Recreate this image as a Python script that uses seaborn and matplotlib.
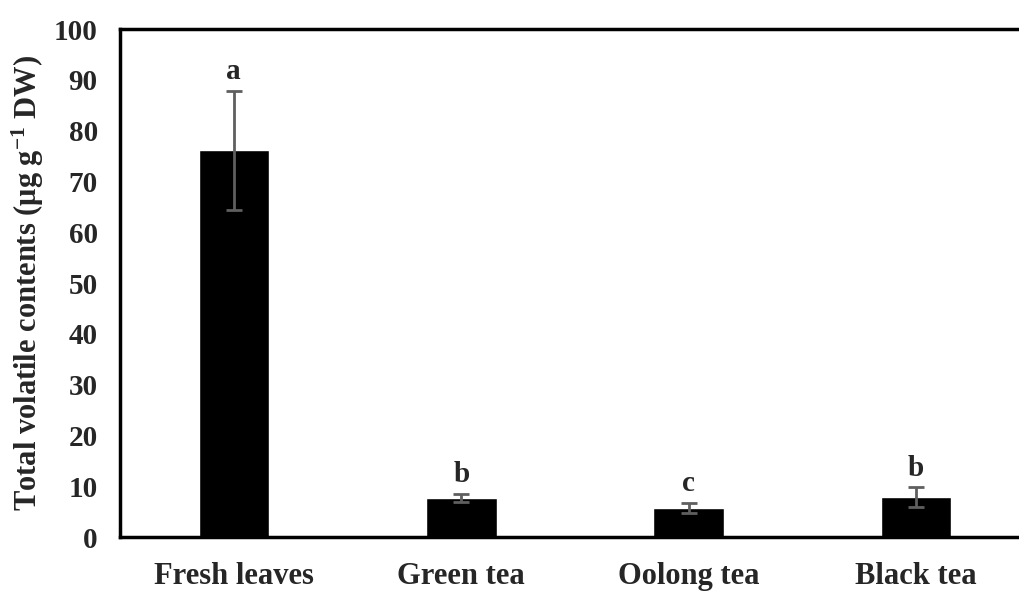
import matplotlib
matplotlib.use("Agg")
import matplotlib.pyplot as plt
import seaborn as sns
import pandas as pd

# valores
categorias = ["Fresh leaves", "Green tea", "Oolong tea", "Black tea"]
medias = [76.1, 7.7, 5.7, 7.9]
erros = [11.7, 0.8, 1.0, 1.9]
letras = ["a", "b", "c", "b"]

df = pd.DataFrame({"amostra": categorias, "total": medias})

sns.set_style("white")
plt.rcParams["font.family"] = ["Liberation Serif", "DejaVu Serif"]
plt.rcParams["font.weight"] = "bold"
plt.rcParams["mathtext.fontset"] = "custom"
plt.rcParams["mathtext.rm"] = "Liberation Serif:bold"
plt.rcParams["mathtext.default"] = "rm"

fig = plt.figure(figsize=(10.19, 5.92), dpi=100)
ax = fig.add_axes([0.1178, 0.0929, 0.8822, 0.8581])

sns.barplot(data=df, x="amostra", y="total", color="black", width=0.31,
            saturation=1, ax=ax, errorbar=None)
ax.errorbar(range(len(categorias)), medias, yerr=erros, fmt="none",
            ecolor="#5f5f5f", elinewidth=2, capsize=6, capthick=2)

for i, (m, e, l) in enumerate(zip(medias, erros, letras)):
    ax.annotate(l, (i, m + e), xytext=(0, 4), textcoords="offset points",
                ha="center", va="bottom", fontsize=21, fontweight="bold")

ax.set_ylim(0, 100)
ax.set_xlim(-0.5, 3.452)
ax.set_yticks(range(0, 101, 10))
ax.tick_params(axis="y", length=0, labelsize=21, pad=16)
ax.tick_params(axis="x", length=0, labelsize=22, pad=18)
for lab in ax.get_xticklabels() + ax.get_yticklabels():
    lab.set_fontweight("bold")
ax.set_xlabel("")
ax.set_ylabel("Total volatile contents (μg g$^{-1}$ DW)", fontsize=22,
              fontweight="bold", labelpad=6)

for s in ["left", "bottom", "top"]:
    ax.spines[s].set_visible(True)
    ax.spines[s].set_linewidth(2.5)
    ax.spines[s].set_color("black")
ax.spines["right"].set_visible(False)

fig.savefig("out.png", dpi=100)
